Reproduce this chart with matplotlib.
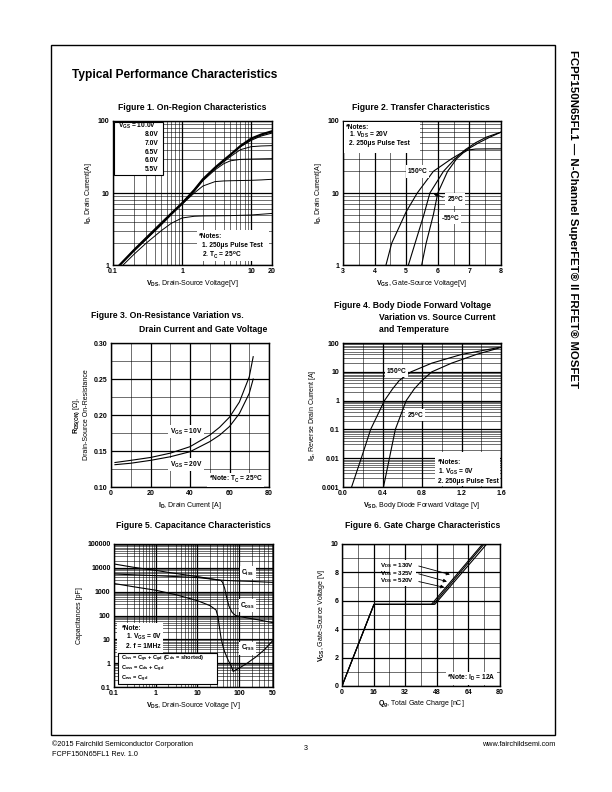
import matplotlib
matplotlib.use("Agg")
import matplotlib.pyplot as plt
from matplotlib.patches import Rectangle
from matplotlib.ticker import FixedLocator, NullFormatter, MultipleLocator, LogLocator

plt.rcParams['font.family'] = ['Liberation Sans', 'DejaVu Sans']
plt.rcParams['font.weight'] = 'bold'
plt.rcParams['mathtext.fontset'] = 'custom'
plt.rcParams['mathtext.rm'] = 'Liberation Sans:bold'
plt.rcParams['mathtext.it'] = 'Liberation Sans:bold'
plt.rcParams['mathtext.bf'] = 'Liberation Sans:bold'
plt.rcParams['mathtext.default'] = 'rm'

# ---- Figure 1 : on-region (VDS, ID) ----
f1_vds = [0.125, 0.2, 0.3, 0.5, 0.7, 1, 1.5, 2, 3, 4, 5, 7, 10, 14, 20]
f1_id_10v = [1, 1.6, 2.35, 3.8, 5.2, 7.2, 11, 15.5, 22.5, 28.5, 34, 45, 57, 65, 72]
f1_id_8v = [1, 1.6, 2.35, 3.8, 5.2, 7.2, 11, 15.5, 22.5, 28.5, 34, 44, 54, 62, 68]
f1_id_7v = [1, 1.58, 2.3, 3.75, 5.1, 7.1, 10.8, 15.2, 22, 27, 32, 40, 44, 45, 45.5]
f1_id_65v = [1, 1.57, 2.3, 3.7, 5.1, 7.1, 10.6, 14.8, 21, 25.5, 28, 29.3, 29.6, 29.8, 30]
f1_id_6v = [1, 1.55, 2.25, 3.6, 5.0, 7.0, 10, 12.5, 14.4, 14.7, 14.8, 14.9, 15, 15.2, 15.5]
f1_vds_55 = [0.14, 0.2, 0.3, 0.5, 0.7, 1, 1.5, 2, 5, 10, 20]
f1_id_55v = [1, 1.4, 2.0, 3.0, 3.8, 4.5, 4.75, 4.8, 4.85, 4.95, 5.2]
f1_vgs_labels = ['8.0V', '7.0V', '6.5V', '6.0V', '5.5V']

# ---- Figure 2 : transfer (VGS, ID) ----
f2_vgs_150 = [4.36, 4.54, 5.0, 5.35, 5.86, 6.44, 6.92, 7.3, 7.66, 8.0]
f2_id_150 = [1, 2, 5.5, 10, 20, 30, 40, 50, 60, 70]
f2_vgs_25 = [5.07, 5.28, 5.56, 5.75, 6.18, 6.55, 6.87, 7.2, 7.55, 8.0]
f2_id_25 = [1, 2, 5, 10, 20, 30, 40, 50, 60, 70]
f2_vgs_m55 = [5.49, 5.63, 5.86, 6.0, 6.31, 6.6, 6.8, 6.95, 7.2, 7.6, 8.0]
f2_id_m55 = [1, 2, 5, 10, 20, 30, 36, 39.5, 40.8, 41, 41]

# ---- Figure 3 : RDS(on) vs ID ----
f3_id = [2, 10, 20, 30, 40, 50, 55, 60, 65, 70, 72]
f3_r_10v = [0.134, 0.137, 0.141, 0.147, 0.156, 0.172, 0.183, 0.197, 0.218, 0.253, 0.281]
f3_r_20v = [0.131, 0.133, 0.137, 0.142, 0.149, 0.163, 0.172, 0.184, 0.202, 0.230, 0.250]

# ---- Figure 4 : body diode (VSD, IS) ----
f4_is = [0.001, 0.01, 0.1, 1, 2.5, 5, 10, 20, 40, 70]
f4_vsd_150 = [0.087, 0.185, 0.28, 0.42, 0.5, 0.57, 0.69, 0.9, 1.2, 1.58]
f4_vsd_25 = [0.41, 0.47, 0.53, 0.64, 0.72, 0.8, 0.9, 1.1, 1.35, 1.6]

# ---- Figure 5 : capacitances (VDS, pF) ----
f5_v_ciss = [0.1, 0.3, 1, 3, 10, 20, 30, 50, 100, 200, 400, 650]
f5_ciss = [14500, 10500, 7800, 5800, 4300, 3500, 3100, 2950, 2800, 2700, 2550, 2450]
f5_v_coss = [0.1, 1, 10, 30, 36, 40, 45, 50, 57, 68, 82, 150, 300, 650]
f5_coss = [5500, 4700, 3900, 3200, 3000, 2500, 1400, 600, 250, 135, 100, 80, 65, 50]
f5_v_crss = [0.1, 0.3, 1, 3, 10, 20, 28, 31, 34, 37, 40, 45, 55, 65, 72, 80, 100, 150, 250, 400, 650]
f5_crss = [2200, 1600, 1150, 750, 420, 260, 170, 90, 30, 11, 6, 3, 1.3, 0.75, 0.45, 0.5, 0.62,
           0.95, 1.8, 3.6, 9]

# ---- Figure 6 : gate charge (Qg, VGS) ----
f6_vgs = [0, 5.75, 5.75, 10]
f6_qg_130 = [0, 16.2, 45.3, 71.2]
f6_qg_325 = [0, 16.2, 46.2, 72.0]
f6_qg_520 = [0, 16.2, 47.0, 73.3]
f6_vds_labels = ['130V', '325V', '520V']

W, H = 612, 792
fig = plt.figure(figsize=(W / 100, H / 100), dpi=100)


def add_ax(x0, y0, x1, y1):
    return fig.add_axes([x0 / W, 1 - y1 / H, (x1 - x0) / W, (y1 - y0) / H])


def style(ax):
    ax.set_axisbelow(True)
    ax.grid(True, which='major', color='black', lw=0.9)
    ax.grid(True, which='minor', color='black', lw=0.4)
    ax.tick_params(which='both', length=0, labelsize=5, pad=2.5)
    for s in ax.spines.values():
        s.set_linewidth(1.0)


def log_minor(axis):
    axis.set_minor_locator(LogLocator(base=10, subs=range(2, 10), numticks=20))
    axis.set_minor_formatter(NullFormatter())


def note(ax, x, y, s, size=4.8, **kw):
    ax.text(x, y, s, transform=ax.transAxes, fontsize=size, zorder=5, **kw)


def white(ax, x, y, w, h, edge='none'):
    ax.add_patch(Rectangle((x, y), w, h, transform=ax.transAxes, facecolor='white',
                           edgecolor=edge, lw=0.8, zorder=4))


lab = dict(fontsize=5)
wbox = dict(facecolor='white', edgecolor='none', pad=1.0)

# page frame and headings
fig.add_artist(Rectangle((51 / W, 1 - 735 / H), 504 / W, 690 / H, transform=fig.transFigure,
                         fill=False, lw=1.0, edgecolor='black'))
fig.text(72 / W, 1 - 75 / H, 'Typical Performance Characteristics', fontsize=8.6, va='center')
fig.text(573 / W, 1 - 50 / H, 'FCPF150N65FL1 \u2014 N-Channel SuperFET\u00ae II FRFET\u00ae MOSFET',
         rotation=-90, fontsize=8.2, ha='center', va='top')
ffs = 5.2
fig.text(52 / W, 1 - 744 / H, '\u00a92015 Fairchild Semiconductor Corporation', fontsize=ffs,
         fontweight='normal', va='center')
fig.text(52 / W, 1 - 754 / H, 'FCPF150N65FL1 Rev. 1.0', fontsize=ffs, fontweight='normal', va='center')
fig.text(306 / W, 1 - 748 / H, '3', fontsize=ffs, fontweight='normal', ha='center', va='center')
fig.text(555 / W, 1 - 744 / H, 'www.fairchildsemi.com', fontsize=ffs, fontweight='normal',
         ha='right', va='center')

tfs = 6.2
fig.text(192 / W, 1 - 107 / H, 'Figure 1. On-Region Characteristics', fontsize=tfs, ha='center', va='center')
fig.text(421 / W, 1 - 107 / H, 'Figure 2. Transfer Characteristics', fontsize=tfs, ha='center', va='center')
fig.text(91 / W, 1 - 316 / H, 'Figure 3. On-Resistance Variation vs.', fontsize=tfs, va='center')
fig.text(139 / W, 1 - 329 / H, 'Drain Current and Gate Voltage', fontsize=tfs, va='center')
fig.text(334 / W, 1 - 305 / H, 'Figure 4. Body Diode Forward Voltage', fontsize=tfs, va='center')
fig.text(379 / W, 1 - 317 / H, 'Variation vs. Source Current', fontsize=tfs, va='center')
fig.text(379 / W, 1 - 329 / H, 'and Temperature', fontsize=tfs, va='center')
fig.text(193 / W, 1 - 525 / H, 'Figure 5. Capacitance Characteristics', fontsize=tfs, ha='center', va='center')
fig.text(423 / W, 1 - 525 / H, 'Figure 6. Gate Charge Characteristics', fontsize=tfs, ha='center', va='center')

# ---------- Figure 1 ----------
ax1 = add_ax(113, 121, 272, 265)
ax1.set_xscale('log')
ax1.set_yscale('log')
ax1.set_xlim(0.1, 20)
ax1.set_ylim(1, 100)
style(ax1)
ax1.xaxis.set_major_locator(FixedLocator([0.1, 1, 10, 20]))
ax1.set_xticklabels(['0.1', '1', '10', '20'])
ax1.yaxis.set_major_locator(FixedLocator([1, 10, 100]))
ax1.set_yticklabels(['1', '10', '100'])
log_minor(ax1.xaxis)
log_minor(ax1.yaxis)
ax1.plot(f1_vds, f1_id_10v, color='black', lw=1.6)
ax1.plot(f1_vds, f1_id_8v, color='black', lw=0.8)
ax1.plot(f1_vds, f1_id_7v, color='black', lw=0.7)
ax1.plot(f1_vds, f1_id_65v, color='black', lw=0.7)
ax1.plot(f1_vds, f1_id_6v, color='black', lw=0.7)
ax1.plot(f1_vds_55, f1_id_55v, color='black', lw=0.7)
white(ax1, 0.005, 0.625, 0.31, 0.365, edge='black')
note(ax1, 0.03, 0.963, r'$\mathrm{V_{GS}}$ = 10.0V', va='center')
for i, s in enumerate(f1_vgs_labels):
    note(ax1, 0.285, 0.903 - 0.06 * i, s, ha='right', va='center')
white(ax1, 0.53, 0.03, 0.45, 0.21)
note(ax1, 0.54, 0.197, '*Notes:', va='center')
note(ax1, 0.56, 0.135, '1. 250\u03bcs Pulse Test', va='center')
note(ax1, 0.56, 0.067, r'2. $\mathrm{T_C}$ = 25$^\mathrm{o}$C', va='center')
ax1.set_xlabel(r'$\mathrm{V_{DS}}$, Drain-Source Voltage[V]', labelpad=1.5, **lab)
ax1.set_ylabel(r'$\mathrm{I_D}$, Drain Current[A]', labelpad=3, **lab)

# ---------- Figure 2 ----------
ax2 = add_ax(343, 121, 501, 265)
ax2.set_yscale('log')
ax2.set_xlim(3, 8)
ax2.set_ylim(1, 100)
style(ax2)
ax2.xaxis.set_major_locator(MultipleLocator(1))
ax2.xaxis.set_minor_locator(MultipleLocator(0.5))
ax2.yaxis.set_major_locator(FixedLocator([1, 10, 100]))
ax2.set_yticklabels(['1', '10', '100'])
log_minor(ax2.yaxis)
ax2.plot(f2_vgs_150, f2_id_150, color='black', lw=0.8)
ax2.plot(f2_vgs_25, f2_id_25, color='black', lw=0.8)
ax2.plot(f2_vgs_m55, f2_id_m55, color='black', lw=0.8)
white(ax2, 0.005, 0.78, 0.48, 0.215)
note(ax2, 0.02, 0.955, '*Notes:', va='center')
note(ax2, 0.04, 0.9, r'1. $\mathrm{V_{DS}}$ = 20V', va='center')
note(ax2, 0.04, 0.842, '2. 250\u03bcs Pulse Test', va='center')
ax2.text(5.36, 20, r'150$^\mathrm{o}$C', fontsize=4.8, ha='center', va='center', bbox=wbox, zorder=5)
ax2.text(6.55, 8.2, r'25$^\mathrm{o}$C', fontsize=4.8, ha='center', va='center', bbox=wbox, zorder=5)
ax2.text(6.4, 4.5, r'-55$^\mathrm{o}$C', fontsize=4.8, ha='center', va='center', bbox=wbox, zorder=5)
ax2.annotate('', xy=(5.78, 10.2), xytext=(6.25, 8.4),
             arrowprops=dict(arrowstyle='-|>', lw=0.6, color='black', mutation_scale=5), zorder=6)
ax2.set_xlabel(r'$\mathrm{V_{GS}}$, Gate-Source Voltage[V]', labelpad=1.5, **lab)
ax2.set_ylabel(r'$\mathrm{I_D}$, Drain Current[A]', labelpad=3, **lab)

# ---------- Figure 3 ----------
ax3 = add_ax(111, 343, 269, 487)
ax3.set_xlim(0, 80)
ax3.set_ylim(0.10, 0.30)
style(ax3)
ax3.xaxis.set_major_locator(MultipleLocator(20))
ax3.xaxis.set_minor_locator(MultipleLocator(10))
ax3.yaxis.set_major_locator(MultipleLocator(0.05))
ax3.yaxis.set_minor_locator(MultipleLocator(0.025))
ax3.yaxis.set_major_formatter(plt.FormatStrFormatter('%.2f'))
ax3.plot(f3_id, f3_r_10v, color='black', lw=0.8)
ax3.plot(f3_id, f3_r_20v, color='black', lw=0.8)
ax3.text(38, 0.177, r'$\mathrm{V_{GS}}$ = 10V', fontsize=4.8, ha='center', va='center', bbox=wbox, zorder=5)
ax3.text(38, 0.131, r'$\mathrm{V_{GS}}$ = 20V', fontsize=4.8, ha='center', va='center', bbox=wbox, zorder=5)
ax3.text(63, 0.11, r'*Note: $\mathrm{T_C}$ = 25$^\mathrm{o}$C', fontsize=4.8, ha='center', va='center',
         bbox=wbox, zorder=5)
ax3.set_xlabel(r'$\mathrm{I_D}$, Drain Current [A]', labelpad=1.5, **lab)
ax3.set_ylabel(r'$\mathrm{R_{DS(ON)}}$ ' + '[\u03a9],\nDrain-Source On-Resistance', labelpad=3,
               linespacing=1.2, **lab)

# ---------- Figure 4 ----------
ax4 = add_ax(343, 343, 501, 487)
ax4.set_yscale('log')
ax4.set_xlim(0, 1.6)
ax4.set_ylim(0.001, 100)
style(ax4)
ax4.xaxis.set_major_locator(MultipleLocator(0.4))
ax4.xaxis.set_minor_locator(MultipleLocator(0.2))
ax4.xaxis.set_major_formatter(plt.FormatStrFormatter('%.1f'))
ax4.yaxis.set_major_locator(FixedLocator([0.001, 0.01, 0.1, 1, 10, 100]))
ax4.set_yticklabels(['0.001', '0.01', '0.1', '1', '10', '100'])
log_minor(ax4.yaxis)
ax4.plot(f4_vsd_150, f4_is, color='black', lw=0.8)
ax4.plot(f4_vsd_25, f4_is, color='black', lw=0.8)
note(ax4, 0.34, 0.808, r'150$^\mathrm{o}$C', ha='center', va='center', bbox=wbox)
note(ax4, 0.456, 0.5, r'25$^\mathrm{o}$C', ha='center', va='center', bbox=wbox)
white(ax4, 0.58, 0.01, 0.415, 0.23)
note(ax4, 0.6, 0.169, '*Notes:', va='center')
note(ax4, 0.6, 0.104, r'1. $\mathrm{V_{GS}}$ = 0V', va='center')
note(ax4, 0.6, 0.037, '2. 250\u03bcs Pulse Test', va='center')
ax4.set_xlabel(r'$\mathrm{V_{SD}}$, Body Diode Forward Voltage [V]', labelpad=1.5, **lab)
ax4.set_ylabel(r'$\mathrm{I_S}$, Reverse Drain Current [A]', labelpad=3, **lab)

# ---------- Figure 5 ----------
ax5 = add_ax(114, 544, 273, 687)
ax5.set_xscale('log')
ax5.set_yscale('log')
ax5.set_xlim(0.1, 650)
ax5.set_ylim(0.1, 100000)
style(ax5)
ax5.xaxis.set_major_locator(FixedLocator([0.1, 1, 10, 100, 650]))
ax5.set_xticklabels(['0.1', '1', '10', '100', '50'])
ax5.yaxis.set_major_locator(FixedLocator([0.1, 1, 10, 100, 1000, 10000, 100000]))
ax5.set_yticklabels(['0.1', '1', '10', '100', '1000', '10000', '100000'])
log_minor(ax5.xaxis)
log_minor(ax5.yaxis)
ax5.plot(f5_v_ciss, f5_ciss, color='black', lw=0.8)
ax5.plot(f5_v_coss, f5_coss, color='black', lw=0.8)
ax5.plot(f5_v_crss, f5_crss, color='black', lw=0.8)
for y, s in [(0.80, r'$\mathrm{C_{iss}}$'), (0.57, r'$\mathrm{C_{oss}}$'), (0.27, r'$\mathrm{C_{rss}}$')]:
    note(ax5, 0.84, y, s, ha='center', va='center', bbox=wbox)
white(ax5, 0.017, 0.235, 0.29, 0.215)
note(ax5, 0.05, 0.41, '*Note:', va='center')
note(ax5, 0.075, 0.35, r'1. $\mathrm{V_{GS}}$ = 0V', va='center')
note(ax5, 0.075, 0.285, '2. f = 1MHz', va='center')
white(ax5, 0.027, 0.02, 0.62, 0.215, edge='black')
note(ax5, 0.045, 0.198, r'$\mathrm{C_{iss}}$ = $\mathrm{C_{gs}}$ + $\mathrm{C_{gd}}$ ($\mathrm{C_{ds}}$ = shorted)',
     size=4.1, va='center')
note(ax5, 0.045, 0.127, r'$\mathrm{C_{oss}}$ = $\mathrm{C_{ds}}$ + $\mathrm{C_{gd}}$', size=4.1, va='center')
note(ax5, 0.045, 0.056, r'$\mathrm{C_{rss}}$ = $\mathrm{C_{gd}}$', size=4.1, va='center')
ax5.set_xlabel(r'$\mathrm{V_{DS}}$, Drain-Source Voltage [V]', labelpad=1.5, **lab)
ax5.set_ylabel('Capacitances [pF]', labelpad=3, **lab)

# ---------- Figure 6 ----------
ax6 = add_ax(342, 544, 500, 686)
ax6.set_xlim(0, 80)
ax6.set_ylim(0, 10)
style(ax6)
ax6.xaxis.set_major_locator(MultipleLocator(16))
ax6.xaxis.set_minor_locator(MultipleLocator(8))
ax6.yaxis.set_major_locator(MultipleLocator(2))
ax6.yaxis.set_minor_locator(MultipleLocator(1))
ax6.plot(f6_qg_130, f6_vgs, color='black', lw=0.8)
ax6.plot(f6_qg_325, f6_vgs, color='black', lw=0.8)
ax6.plot(f6_qg_520, f6_vgs, color='black', lw=0.8)
ys = [8.5, 7.95, 7.4]
ends = [(56.0, 7.8), (54.5, 7.3), (53.2, 6.9)]
ax6.add_patch(Rectangle((24.5, 7.05), 13.0, 1.8, facecolor='white', edgecolor='none', zorder=4))
for s, y, (ex, ey) in zip(f6_vds_labels, ys, ends):
    ax6.text(36.5, y, r'$\mathrm{V_{DS}}$ = ' + s, fontsize=4.5, ha='right', va='center', zorder=5)
    ax6.annotate('', xy=(ex, ey), xytext=(37.5, y),
                 arrowprops=dict(arrowstyle='-|>', lw=0.6, color='black', mutation_scale=5), zorder=6)
note(ax6, 0.82, 0.055, r'*Note: $\mathrm{I_D}$ = 12A', ha='center', va='center', bbox=wbox)
ax6.set_xlabel(r'$\mathrm{Q_g}$, Total Gate Charge [nC]', labelpad=1.5, **lab)
ax6.set_ylabel(r'$\mathrm{V_{GS}}$, Gate-Source Voltage [V]', labelpad=3, **lab)

fig.savefig('out.png', dpi=100)
